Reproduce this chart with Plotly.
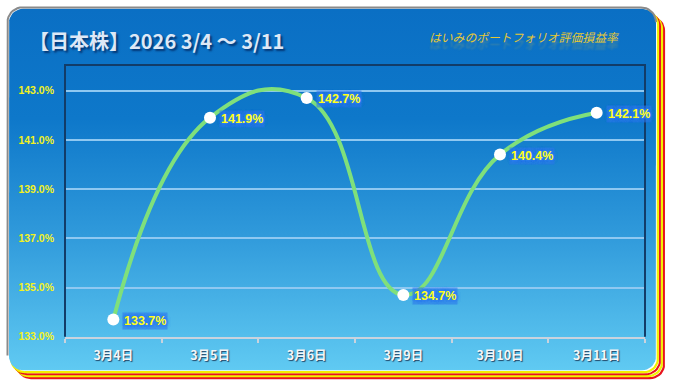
import numpy as np
import plotly.graph_objects as go

# ---- data ----
categories = ["3月4日", "3月5日", "3月6日", "3月9日", "3月10日", "3月11日"]
values = [133.7, 141.9, 142.7, 134.7, 140.4, 142.1]
y_ticks = [133, 135, 137, 139, 141, 143]
y_tick_labels = [f"{v:.1f}%" for v in y_ticks]
title_text = "【日本株】2026 3/4 ～ 3/11"
subtitle_text = "はいみのポートフォリオ評価損益率"

W, H = 674, 392


def rounded_rect(x0, y0, x1, y1, r, n=10):
    """Closed rounded rectangle in pixel coords, starting at bottom-left going up."""
    pts = []
    def arc(cx, cy, a0, a1):
        for t in np.linspace(a0, a1, n):
            pts.append((cx + r * np.cos(t), cy + r * np.sin(t)))
    arc(x0 + r, y1 - r, np.pi, np.pi)
    arc(x0 + r, y0 + r, np.pi, 1.5 * np.pi)
    arc(x1 - r, y0 + r, 1.5 * np.pi, 2 * np.pi)
    arc(x1 - r, y1 - r, 0, 0.5 * np.pi)
    arc(x0 + r, y1 - r, 0.5 * np.pi, np.pi)
    return [p[0] for p in pts], [p[1] for p in pts]


fig = go.Figure()

PX0, PY0, PX1, PY1, R = 9, 9, 656, 376, 14

# stripes (right/bottom shadow)
for d, col, w in [(8, "#e8141e", 2.2), (6, "#f2f200", 2.2), (4, "#e8141e", 2.0), (2, "#f2f200", 2.2)]:
    sx, sy = rounded_rect(PX0 + d, PY0 + d, PX1 + d, PY1 + d, R)
    fig.add_trace(go.Scatter(x=sx, y=sy, mode="lines", line=dict(color=col, width=w),
                             hoverinfo="skip", showlegend=False, xaxis="x", yaxis="y"))

# panel with gradient
bx, by = rounded_rect(PX0, PY0, PX1, PY1, R)
fig.add_trace(go.Scatter(
    x=bx, y=by, mode="lines", fill="toself", line=dict(width=0, color="rgba(0,0,0,0)"),
    fillgradient=dict(type="vertical", start=PY0, stop=PY1,
                      colorscale=[[0, "#0a6fc4"], [0.3, "#0e78ca"], [0.6, "#2e98da"], [1, "#62ccf3"]]),
    hoverinfo="skip", showlegend=False, xaxis="x", yaxis="y"))

# gray outline on top/left
gx, gy = rounded_rect(PX0 - 1.5, PY0 - 1.5, PX1, PY1, R + 1)
k = 3 * 10
fig.add_trace(go.Scatter(x=gx[:k], y=gy[:k], mode="lines", line=dict(color="#8a8a8a", width=2),
                         hoverinfo="skip", showlegend=False, xaxis="x", yaxis="y"))

# main series
fig.add_trace(go.Scatter(
    x=categories, y=values, mode="lines+markers",
    line=dict(color="#7fe07b", width=4, shape="spline", smoothing=1.3),
    marker=dict(color="white", size=12, line=dict(width=0)),
    hoverinfo="skip", showlegend=False, xaxis="x2", yaxis="y2"))

halo = ", ".join(["0 0 2px #2f7ff0"] * 4 + ["0 0 4px #2f7ff0"] * 3)
annotations = []
for c, v in zip(categories, values):
    annotations.append(dict(
        x=c, y=v, xref="x2", yref="y2", text=f"{v:.1f}%", showarrow=False,
        xanchor="left", yanchor="middle", xshift=9, yshift=-1,
        bgcolor="rgba(45,120,235,0.55)", borderpad=1,
        font=dict(family="Arial, Liberation Sans", size=12.5, color="#ffff1a", weight="bold",
                  shadow=halo)))

annotations.append(dict(
    x=27 / W, y=1 - 41 / H, xref="paper", yref="paper", text=title_text, showarrow=False,
    xanchor="left", yanchor="middle",
    font=dict(family="Noto Sans CJK JP", size=20, color="#dde8f6", weight="bold",
              shadow="2px 2px 2px rgba(0,35,90,0.75)")))
annotations.append(dict(
    x=427 / W, y=1 - 37 / H, xref="paper", yref="paper", text=subtitle_text, showarrow=False,
    xanchor="left", yanchor="middle",
    font=dict(family="Noto Sans CJK JP", size=11.8, color="#e6c834", style="italic",
              shadow="0px 7px 2px rgba(232,200,58,0.25)")))

shapes = [
    dict(type="path", xref="paper", yref="paper",
         path=f"M {65/W} {1-342/H} L {65/W} {1-66/H} L {645/W} {1-66/H} L {645/W} {1-342/H}",
         line=dict(color="#123c68", width=2), layer="above"),
]

fig.update_layout(
    width=W, height=H, margin=dict(l=0, r=0, t=0, b=0),
    paper_bgcolor="white", plot_bgcolor="rgba(0,0,0,0)",
    xaxis=dict(domain=[0, 1], range=[0, W], visible=False, fixedrange=True),
    yaxis=dict(domain=[0, 1], range=[H, 0], visible=False, fixedrange=True),
    xaxis2=dict(domain=[65 / W, 645 / W], anchor="y2", type="category",
                range=[-0.5, len(categories) - 0.5],
                showgrid=False, showline=True, linecolor="#c9d3de", linewidth=2,
                ticks="outside", tickson="boundaries", ticklen=4, tickwidth=1.5, tickcolor="#c9d3de",
                ticklabelstandoff=6,
                tickfont=dict(family="Noto Sans CJK JP", size=12.5, color="#f4f6f8", weight="bold",
                              shadow="1px 1px 1px rgba(20,40,70,0.8)"),
                zeroline=False),
    yaxis2=dict(domain=[(H - 342) / H, (H - 67) / H], anchor="x2", range=[133, 144],
                tickvals=y_ticks, ticktext=y_tick_labels,
                showgrid=True, gridcolor="#8fc8f1", gridwidth=1.5,
                showline=False, ticks="", ticklabelstandoff=10,
                tickfont=dict(family="Arial, Liberation Sans", size=10.5, color="#f2f21e", weight="bold"),
                zeroline=False),
    annotations=annotations, shapes=shapes,
)

fig.write_html("out.html")
